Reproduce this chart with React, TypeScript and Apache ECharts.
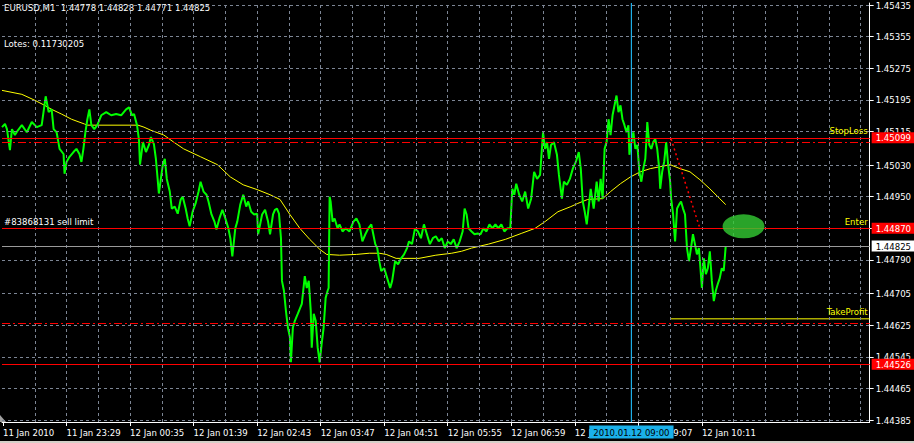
import React, { useEffect, useRef } from "react";
import * as echarts from "echarts";

const FONT = "'DejaVu Sans Condensed', 'Liberation Sans', Arial, sans-serif";

// Minute-bar index (x) and close prices of the EURUSD M1 line
const priceIdx = [0,3,5,8,10,13,16,20,25,30,35,40,44,47,50,52,55,58,62,63,65,68,72,75,78,80,82,84,86,88,90,93,96,100,105,110,115,120,125,128,131,133,136,138,139,142,145,148,150,153,155,157,158,160,162,164,166,169,171,174,177,180,182,185,187,189,192,195,198,200,203,206,208,211,214,216,219,222,225,228,230,232,235,237,240,243,246,248,251,254,257,258,262,265,268,270,273,275,277,279,281,282,284,286,288,290,291,293,295,298,302,305,307,309,311,312,314,316,318,320,322,324,326,328,329,330,331,333,335,338,340,343,346,350,354,357,360,363,366,369,372,374,376,378,380,382,385,388,391,393,396,399,402,405,408,410,413,416,419,422,425,428,431,434,437,440,443,446,449,452,455,458,461,464,466,468,470,473,476,479,482,485,488,491,494,497,500,503,506,509,512,514,516,518,521,524,527,530,533,536,539,542,545,547,549,551,553,556,559,561,564,566,569,572,575,578,581,583,585,587,589,591,593,596,599,601,603,605,607,609,611,613,615,617,619,621,623,625,627,629,631,632,634,636,638,640,642,644,646,648,649,650,652,654,656,658,660,662,663,665,667,669,671,673,674,676,677,678,680,682,684,686,688,689,690,692,694,696,698,700,702,704,705,707,709,711,713,715,717,719,721,723,725,727,729];
const priceClose = [1.45126,1.45134,1.45121,1.45068,1.45121,1.45106,1.45118,1.45131,1.45113,1.45139,1.45126,1.45131,1.45204,1.45164,1.45171,1.45121,1.45113,1.45071,1.45058,1.45008,1.45038,1.45051,1.45063,1.45071,1.45058,1.45038,1.45071,1.45113,1.45146,1.45171,1.45131,1.45121,1.45131,1.45156,1.45164,1.45156,1.45159,1.45156,1.45171,1.45176,1.45156,1.45159,1.45131,1.45093,1.45031,1.45088,1.45063,1.45081,1.45101,1.45083,1.45046,1.44988,1.44958,1.44995,1.45031,1.45046,1.44995,1.44963,1.44920,1.44925,1.44907,1.44943,1.44950,1.44920,1.44895,1.44875,1.44912,1.44933,1.44963,1.44988,1.44963,1.44955,1.44938,1.44905,1.44887,1.44867,1.44895,1.44917,1.44895,1.44870,1.44845,1.44799,1.44870,1.44887,1.44930,1.44955,1.44925,1.44938,1.44912,1.44905,1.44907,1.44855,1.44905,1.44917,1.44887,1.44855,1.44905,1.44917,1.44920,1.44907,1.44845,1.44737,1.44712,1.44661,1.44619,1.44594,1.44531,1.44619,1.44636,1.44654,1.44679,1.44749,1.44719,1.44737,1.44661,1.44568,1.44654,1.44636,1.44568,1.44531,1.44578,1.44619,1.44694,1.44712,1.44719,1.44950,1.44938,1.44887,1.44895,1.44870,1.44880,1.44862,1.44870,1.44862,1.44887,1.44895,1.44880,1.44837,1.44855,1.44870,1.44880,1.44855,1.44830,1.44820,1.44787,1.44762,1.44769,1.44744,1.44719,1.44737,1.44787,1.44779,1.44794,1.44804,1.44820,1.44837,1.44830,1.44870,1.44862,1.44845,1.44880,1.44855,1.44830,1.44845,1.44850,1.44837,1.44845,1.44820,1.44837,1.44830,1.44842,1.44820,1.44837,1.44862,1.44920,1.44905,1.44870,1.44862,1.44855,1.44857,1.44855,1.44870,1.44862,1.44880,1.44870,1.44880,1.44870,1.44880,1.44862,1.44870,1.44870,1.44970,1.44955,1.44983,1.44955,1.44938,1.44963,1.44920,1.44945,1.45013,1.44995,1.45005,1.45113,1.45071,1.45088,1.45046,1.45081,1.45088,1.45056,1.45005,1.44945,1.44988,1.44980,1.44995,1.45021,1.45038,1.45063,1.45021,1.44938,1.44912,1.44880,1.44925,1.44970,1.44920,1.44988,1.44938,1.44995,1.44945,1.45071,1.45088,1.45146,1.45106,1.45156,1.45181,1.45206,1.45164,1.45181,1.45146,1.45131,1.45113,1.45131,1.45056,1.45088,1.45113,1.45071,1.45081,1.45013,1.44988,1.45021,1.45046,1.45088,1.45139,1.45081,1.45071,1.45088,1.45096,1.45071,1.45021,1.44970,1.45013,1.45038,1.45088,1.45031,1.44988,1.44945,1.44905,1.44870,1.44837,1.44920,1.44930,1.44938,1.44920,1.44905,1.44862,1.44820,1.44787,1.44820,1.44855,1.44830,1.44804,1.44820,1.44754,1.44719,1.44794,1.44754,1.44769,1.44812,1.44737,1.44686,1.44712,1.44729,1.44744,1.44769,1.44762,1.44825];

// Moving average (yellow)
const maIdx = [0,20,33,43,50,60,70,83,86,137,143,150,163,173,183,200,217,230,243,257,270,280,290,300,310,320,327,340,357,370,380,387,397,407,420,437,453,463,473,490,507,523,537,547,560,573,580,590,605,613,623,633,643,653,663,673,683,693,703,713,723,729];
const maVals = [1.45219,1.45209,1.45194,1.45181,1.45171,1.45159,1.45146,1.45134,1.45131,1.45131,1.45126,1.45118,1.45106,1.45088,1.45071,1.45051,1.45031,1.45000,1.44980,1.44968,1.44955,1.44943,1.44905,1.44870,1.44842,1.44817,1.44804,1.44802,1.44804,1.44807,1.44807,1.44804,1.44794,1.44794,1.44794,1.44802,1.44807,1.44812,1.44820,1.44830,1.44842,1.44857,1.44870,1.44887,1.44912,1.44925,1.44933,1.44943,1.44945,1.44963,1.44983,1.45000,1.45013,1.45021,1.45026,1.45031,1.45021,1.45013,1.44993,1.44970,1.44945,1.44930];

// Axis ticks
const xMin = 0;
const xMax = 874;
const yMin = 1.4438;
const yMax = 1.4544;
const xTickIdx = [1,65,129,193,257,321,385,449,513,577,641,705];
const xTickLabels = ["11 Jan 2010","11 Jan 23:29","12 Jan 00:35","12 Jan 01:39","12 Jan 02:43","12 Jan 03:47","12 Jan 04:51","12 Jan 05:55","12 Jan 06:59","12 Jan 08:03","12 Jan 09:07","12 Jan 10:11"];
const yTicks = [1.44385,1.44465,1.44545,1.44625,1.44705,1.4479,1.4487,1.4495,1.4503,1.45115,1.45195,1.45275,1.45355,1.45435];

// Levels and objects
const stopLoss = 1.45099;
const stopOrder = 1.45088;
const enterPrice = 1.4487;
const bidPrice = 1.44825;
const takeProfit = 1.44641;
const takeOrder = 1.4463;
const lowLevel = 1.44526;
const tpStartIdx = 673;
const cursorIdx = 634;
const cursorLabel = "2010.01.12 09:00";
const trendFrom = [674, 1.45096];
const trendTo = [703, 1.4487];
const markerPoint = [747, 1.44875];

const titleText = "EURUSD,M1  1.44778 1.44828 1.44771 1.44825";
const lotsText = "Lotes: 0.11730205";
const orderText = "#83868131 sell limit";

export default function App() {
  const ref = useRef<HTMLDivElement>(null);
  useEffect(() => {
    document.body.style.margin = "0";
    document.body.style.background = "#000";
    const chart = echarts.init(ref.current!, null, { renderer: "svg" });
    const xGrid: number[] = [];
    for (let v = 33; v <= 865; v += 32) xGrid.push(v);
    const box = (bg: string, fg: string, text: string) => ({
      show: true,
      position: "end",
      distance: 2,
      formatter: text,
      backgroundColor: bg,
      color: fg,
      padding: [1, 4, 0, 4],
      fontSize: 9.5,
      fontFamily: FONT,
    });
    const tag = (text: string, pos: string, color: string) => ({
      show: true,
      position: pos,
      distance: 2,
      formatter: text,
      color,
      fontSize: 9.5,
      fontFamily: FONT,
    });
    const clear = { color: "rgba(0,0,0,0)", type: "solid", width: 1 };
    const redSolid = { color: "#ff0000", type: "solid", width: 1 };
    const redDash = { color: "#ff0000", type: [8, 3, 2, 3], width: 1 };
    const helperData = [[xMin, yMin], [xMax, yMax]];
    const option: any = {
      animation: false,
      backgroundColor: "#000",
      grid: { left: 0, top: 0, width: 874, height: 422 },
      xAxis: {
        type: "value",
        min: xMin,
        max: xMax,
        axisLine: { show: true, onZero: false, lineStyle: { color: "#fff", width: 1 } },
        axisTick: { show: true, customValues: xTickIdx, length: 4, lineStyle: { color: "#fff" } },
        axisLabel: {
          customValues: xTickIdx,
          formatter: (v: number) => {
            const i = xTickIdx.indexOf(Math.round(v));
            return i >= 0 ? xTickLabels[i] : "";
          },
          color: "#fff",
          fontSize: 9.5,
          fontFamily: FONT,
          align: "left",
          margin: 5,
        },
        splitLine: { show: false },
      },
      yAxis: {
        type: "value",
        position: "right",
        min: yMin,
        max: yMax,
        axisLine: { show: true, onZero: false, lineStyle: { color: "#fff", width: 1 } },
        axisTick: { show: true, customValues: yTicks, length: 4, lineStyle: { color: "#fff" } },
        axisLabel: {
          customValues: yTicks,
          formatter: (v: number) => v.toFixed(5),
          color: "#fff",
          fontSize: 9.5,
          fontFamily: FONT,
          margin: 6,
        },
        splitLine: { show: false },
      },
      series: [
        {
          name: "grid",
          type: "line",
          data: helperData,
          showSymbol: false,
          lineStyle: { opacity: 0, width: 0 },
          z: 1,
          silent: true,
          markLine: {
            silent: true,
            precision: 6,
            symbol: ["none", "none"],
            label: { show: false },
            lineStyle: { color: "#7c8594", type: [3, 3], width: 1 },
            data: [
              ...yTicks.map((v) => ({ yAxis: v })),
              ...xGrid.map((v) => ({ xAxis: v })),
            ],
          },
        },
        {
          name: "ma",
          type: "line",
          data: maIdx.map((x, i) => [x, maVals[i]]),
          showSymbol: false,
          z: 3,
          lineStyle: { color: "#ffff00", width: 1 },
        },
        {
          name: "close",
          type: "line",
          data: priceIdx.map((x, i) => [x, priceClose[i]]),
          showSymbol: false,
          z: 3,
          lineStyle: { color: "#00ff00", width: 2 },
        },
        {
          name: "takeProfitLine",
          type: "line",
          data: [[tpStartIdx, takeProfit], [xMax, takeProfit]],
          showSymbol: false,
          silent: true,
          z: 4,
          itemStyle: { color: "#ffff00" },
          lineStyle: { color: "#ffff00", width: 1 },
        },
        {
          name: "cursorLine",
          type: "line",
          data: [[cursorIdx, yMax], [cursorIdx, yMin]],
          showSymbol: false,
          silent: true,
          z: 4,
          itemStyle: { color: "#1eaee8" },
          lineStyle: { color: "#1eaee8", width: 1.2 },
          markPoint: {
            silent: true,
            symbol: "rect",
            symbolSize: 1,
            itemStyle: { color: "rgba(0,0,0,0)" },
            label: {
              show: true,
              position: "bottom",
              distance: 3,
              formatter: cursorLabel,
              backgroundColor: "#1ab0ea",
              color: "#000",
              padding: [2, 4, 1, 4],
              fontSize: 9.5,
              fontFamily: FONT,
            },
            data: [{ coord: [cursorIdx, yMin] }],
          },
        },
        {
          name: "levels",
          type: "line",
          data: helperData,
          showSymbol: false,
          lineStyle: { opacity: 0, width: 0 },
          z: 4,
          silent: true,
          markLine: {
            silent: true,
            precision: 6,
            symbol: ["none", "none"],
            label: { show: false },
            data: [
              { yAxis: stopLoss, lineStyle: redSolid, label: box("#ff0000", "#ffffff", stopLoss.toFixed(5)) },
              { yAxis: stopLoss, lineStyle: clear, label: tag("StopLoss", "insideEndTop", "#ffff00") },
              { yAxis: stopOrder, lineStyle: redDash },
              { yAxis: enterPrice, lineStyle: redSolid, label: box("#ff0000", "#ffffff", enterPrice.toFixed(5)) },
              { yAxis: enterPrice, lineStyle: clear, label: tag("Enter", "insideEndTop", "#ffff00") },
              { yAxis: enterPrice, lineStyle: clear, label: tag(orderText, "insideStartTop", "#ffffff") },
              { yAxis: bidPrice, lineStyle: { color: "#9a9a9a", type: "solid", width: 1 }, label: box("#ffffff", "#000000", bidPrice.toFixed(5)) },
              { yAxis: takeOrder, lineStyle: redDash },
              { yAxis: lowLevel, lineStyle: redSolid, label: box("#ff0000", "#ffffff", lowLevel.toFixed(5)) },
              { yAxis: takeProfit, lineStyle: clear, label: tag("TakeProfit", "insideEndTop", "#ffff00") },
              [
                { coord: trendFrom, lineStyle: { color: "#ff0000", type: [2, 3], width: 1.5 } },
                { coord: trendTo, lineStyle: { color: "#ff0000", type: [2, 3], width: 1.5 } },
              ],
            ],
          },
        },
        {
          name: "marker",
          type: "scatter",
          data: [markerPoint],
          symbol: "circle",
          symbolSize: [42, 24],
          z: 5,
          itemStyle: { color: "#33cc33" },
        },
      ],
      graphic: [
        { type: "text", left: 4, top: 2, style: { text: titleText, fill: "#fff", font: `9.5px ${FONT}` } },
        { type: "text", left: 4, top: 38, style: { text: lotsText, fill: "#fff", font: `9.5px ${FONT}` } },
        { type: "polygon", shape: { points: [[0, 415], [0, 422], [6, 422]] }, style: { fill: "#a0a0a0" } },
        { type: "rect", shape: { x: 0, y: 441, width: 914, height: 2 }, style: { fill: "#d4d0c8" } },
      ],
    };
    chart.setOption(option);
    return () => chart.dispose();
  }, []);
  return <div ref={ref} style={{ width: 914, height: 443, background: "#000" }} />;
}
